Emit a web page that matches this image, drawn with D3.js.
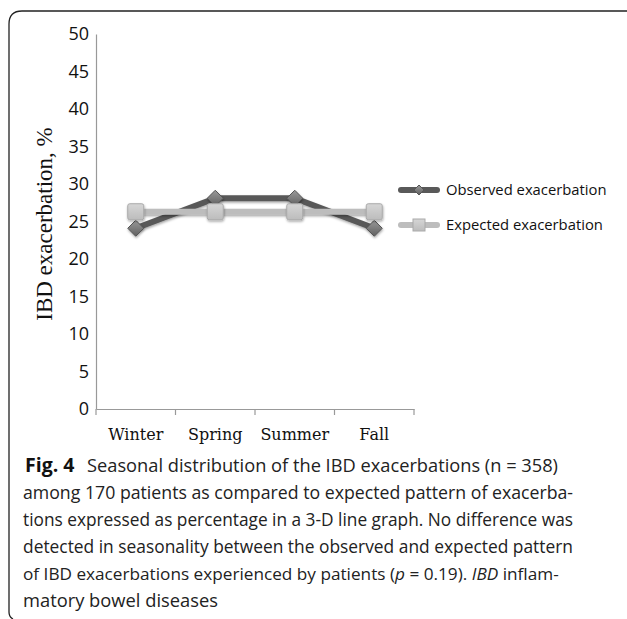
<!DOCTYPE html>
<html>
<head>
<meta charset="utf-8">
<script src="https://cdn.jsdelivr.net/npm/d3@7"></script>
<style>
body { margin: 0; background: #fff; }
svg { display: block; }
</style>
</head>
<body>
<div id="chart"></div>
<script>
(function() {

// data
const seasons = ["Winter", "Spring", "Summer", "Fall"];
const observed = [24.1, 28.1, 28.1, 24.1];
const expected = [26.3, 26.3, 26.3, 26.3];
const yTicks = [0, 5, 10, 15, 20, 25, 30, 35, 40, 45, 50];
const seriesNames = ["Observed exacerbation", "Expected exacerbation"];

const W = 627, H = 619;

const svg = d3.select("#chart")
  .append("svg")
  .attr("width", W)
  .attr("height", H);

// frame (only top and left edges visible)
svg.append("path")
  .attr("d", "M9,612 Q9,617 13,619 M9,612 L9,24 Q9,11 22,11 L627,11")
  .attr("fill", "none")
  .attr("stroke", "#222")
  .attr("stroke-width", 1.3);

// scales
const x = d3.scaleBand()
  .domain(seasons)
  .range([96, 414])
  .padding(0);

const y = d3.scaleLinear()
  .domain([0, 50])
  .range([409, 34]);

// y axis
const yAxis = svg.append("g")
  .attr("transform", "translate(96,0)")
  .call(d3.axisLeft(y).tickValues(yTicks).tickSize(0).tickPadding(7));
yAxis.select(".domain").attr("stroke", "#999").attr("stroke-width", 1.2);
yAxis.selectAll("text")
  .attr("font-family", "'Open Sans', sans-serif")
  .attr("font-size", 18)
  .attr("fill", "#111");

// x axis
const xAxis = svg.append("g")
  .attr("transform", "translate(0,409)")
  .call(d3.axisBottom(x).tickSize(0).tickPadding(20));
xAxis.select(".domain").attr("stroke", "#999").attr("stroke-width", 1.2);
xAxis.selectAll("text")
  .attr("font-family", "'DejaVu Serif', 'Liberation Serif', serif")
  .attr("font-size", 16)
  .attr("fill", "#111");

// x tick marks on band boundaries
const bounds = seasons.map(d => x(d)).concat([x(seasons[3]) + x.bandwidth()]);
svg.append("g")
  .selectAll("line")
  .data(bounds)
  .join("line")
  .attr("x1", d => d).attr("x2", d => d)
  .attr("y1", 409).attr("y2", 415)
  .attr("stroke", "#999")
  .attr("stroke-width", 1.2);

// y label
svg.append("text")
  .attr("transform", "translate(52,224) rotate(-90)")
  .attr("text-anchor", "middle")
  .attr("font-family", "'Liberation Serif', 'DejaVu Serif', serif")
  .attr("font-size", 23)
  .attr("fill", "#111")
  .text("IBD exacerbation, %");

// marker gradients for the 3-D look
const defs = svg.append("defs");
const gDia = defs.append("linearGradient").attr("id", "gdia")
  .attr("x1", 0).attr("y1", 0).attr("x2", 0).attr("y2", 1);
gDia.append("stop").attr("offset", "0%").attr("stop-color", "#9a9a9a");
gDia.append("stop").attr("offset", "100%").attr("stop-color", "#5f5f5f");
const gSq = defs.append("linearGradient").attr("id", "gsq")
  .attr("x1", 0).attr("y1", 0).attr("x2", 0).attr("y2", 1);
gSq.append("stop").attr("offset", "0%").attr("stop-color", "#d6d6d6");
gSq.append("stop").attr("offset", "100%").attr("stop-color", "#bcbcbc");
const shadow = defs.append("filter").attr("id", "shadow")
  .attr("filterUnits", "userSpaceOnUse")
  .attr("x", -W).attr("y", -H).attr("width", 3 * W).attr("height", 3 * H);
shadow.append("feDropShadow")
  .attr("dx", 0.5).attr("dy", 1.5).attr("stdDeviation", 1)
  .attr("flood-color", "#000").attr("flood-opacity", 0.35);

const cx = d => x(d) + x.bandwidth() / 2;
const line = d3.line()
  .x((d, i) => cx(seasons[i]))
  .y(d => y(d));
const diamond = s => `M0,${-s}L${s},0L0,${s}L${-s},0Z`;

// observed line
svg.append("path")
  .datum(observed)
  .attr("d", line)
  .attr("fill", "none")
  .attr("stroke", "#595959")
  .attr("stroke-width", 6)
  .attr("stroke-linejoin", "round")
  .attr("filter", "url(#shadow)");

// observed markers (diamonds)
svg.append("g")
  .selectAll("path")
  .data(observed)
  .join("path")
  .attr("transform", (d, i) => `translate(${cx(seasons[i])},${y(d)})`)
  .attr("d", diamond(8))
  .attr("fill", "url(#gdia)")
  .attr("stroke", "#555")
  .attr("stroke-width", 1)
  .attr("filter", "url(#shadow)");

// expected line
svg.append("path")
  .datum(expected)
  .attr("d", line)
  .attr("fill", "none")
  .attr("stroke", "#bdbdbd")
  .attr("stroke-width", 6)
  .attr("filter", "url(#shadow)");

// expected markers (squares)
svg.append("g")
  .selectAll("rect")
  .data(expected)
  .join("rect")
  .attr("x", (d, i) => cx(seasons[i]) - 8)
  .attr("y", d => y(d) - 8)
  .attr("width", 16)
  .attr("height", 16)
  .attr("rx", 2)
  .attr("fill", "url(#gsq)")
  .attr("stroke", "#aaa")
  .attr("stroke-width", 1)
  .attr("filter", "url(#shadow)");

// legend
const legend = svg.append("g");
const legY = [190, 225];
legend.append("line")
  .attr("x1", 401).attr("x2", 437).attr("y1", legY[0]).attr("y2", legY[0])
  .attr("stroke", "#595959").attr("stroke-width", 6).attr("stroke-linecap", "round");
legend.append("path")
  .attr("transform", `translate(419,${legY[0]})`)
  .attr("d", diamond(5))
  .attr("fill", "url(#gdia)").attr("stroke", "#555");
legend.append("line")
  .attr("x1", 401).attr("x2", 437).attr("y1", legY[1]).attr("y2", legY[1])
  .attr("stroke", "#bdbdbd").attr("stroke-width", 6).attr("stroke-linecap", "round");
legend.append("rect")
  .attr("x", 413).attr("y", legY[1] - 6).attr("width", 12).attr("height", 12)
  .attr("fill", "url(#gsq)").attr("stroke", "#aaa");
legend.selectAll("text")
  .data(seriesNames)
  .join("text")
  .attr("x", 446)
  .attr("y", (d, i) => legY[i])
  .attr("dy", "0.35em")
  .attr("font-family", "'Open Sans', sans-serif")
  .attr("font-size", 14.8)
  .attr("fill", "#111")
  .text(d => d);

// caption
const cap = svg.append("g")
  .attr("font-family", "'Open Sans', sans-serif")
  .attr("font-size", 18)
  .attr("fill", "#222");
const capX = 23, capY0 = 472, lh = 27;

cap.append("text").attr("x", 25).attr("y", capY0)
  .attr("font-weight", "bold")
  .attr("font-size", 19.5)
  .attr("fill", "#111")
  .text("Fig. 4");
cap.append("text").attr("x", 87).attr("y", capY0)
  .attr("textLength", 471)
  .attr("lengthAdjust", "spacingAndGlyphs")
  .text("Seasonal distribution of the IBD exacerbations (n = 358)");

const mids = [
  "among 170 patients as compared to expected pattern of exacerba-",
  "tions expressed as percentage in a 3-D line graph. No difference was",
  "detected in seasonality between the observed and expected pattern"
];
mids.forEach((t, i) => {
  cap.append("text")
    .attr("x", capX)
    .attr("y", capY0 + lh * (i + 1))
    .attr("textLength", 550)
    .attr("lengthAdjust", "spacingAndGlyphs")
    .text(t);
});

const l5 = cap.append("text").attr("x", capX).attr("y", capY0 + lh * 4)
  .attr("font-size", 17.2);
l5.append("tspan").text("of IBD exacerbations experienced by patients (");
l5.append("tspan").attr("font-style", "italic").text("p");
l5.append("tspan").text(" = 0.19). ");
l5.append("tspan").attr("font-style", "italic").text("IBD");
l5.append("tspan").text(" inflam-");

cap.append("text").attr("x", capX).attr("y", capY0 + lh * 5)
  .attr("textLength", 195)
  .attr("lengthAdjust", "spacingAndGlyphs")
  .text("matory bowel diseases");

})();
</script>
</body>
</html>
